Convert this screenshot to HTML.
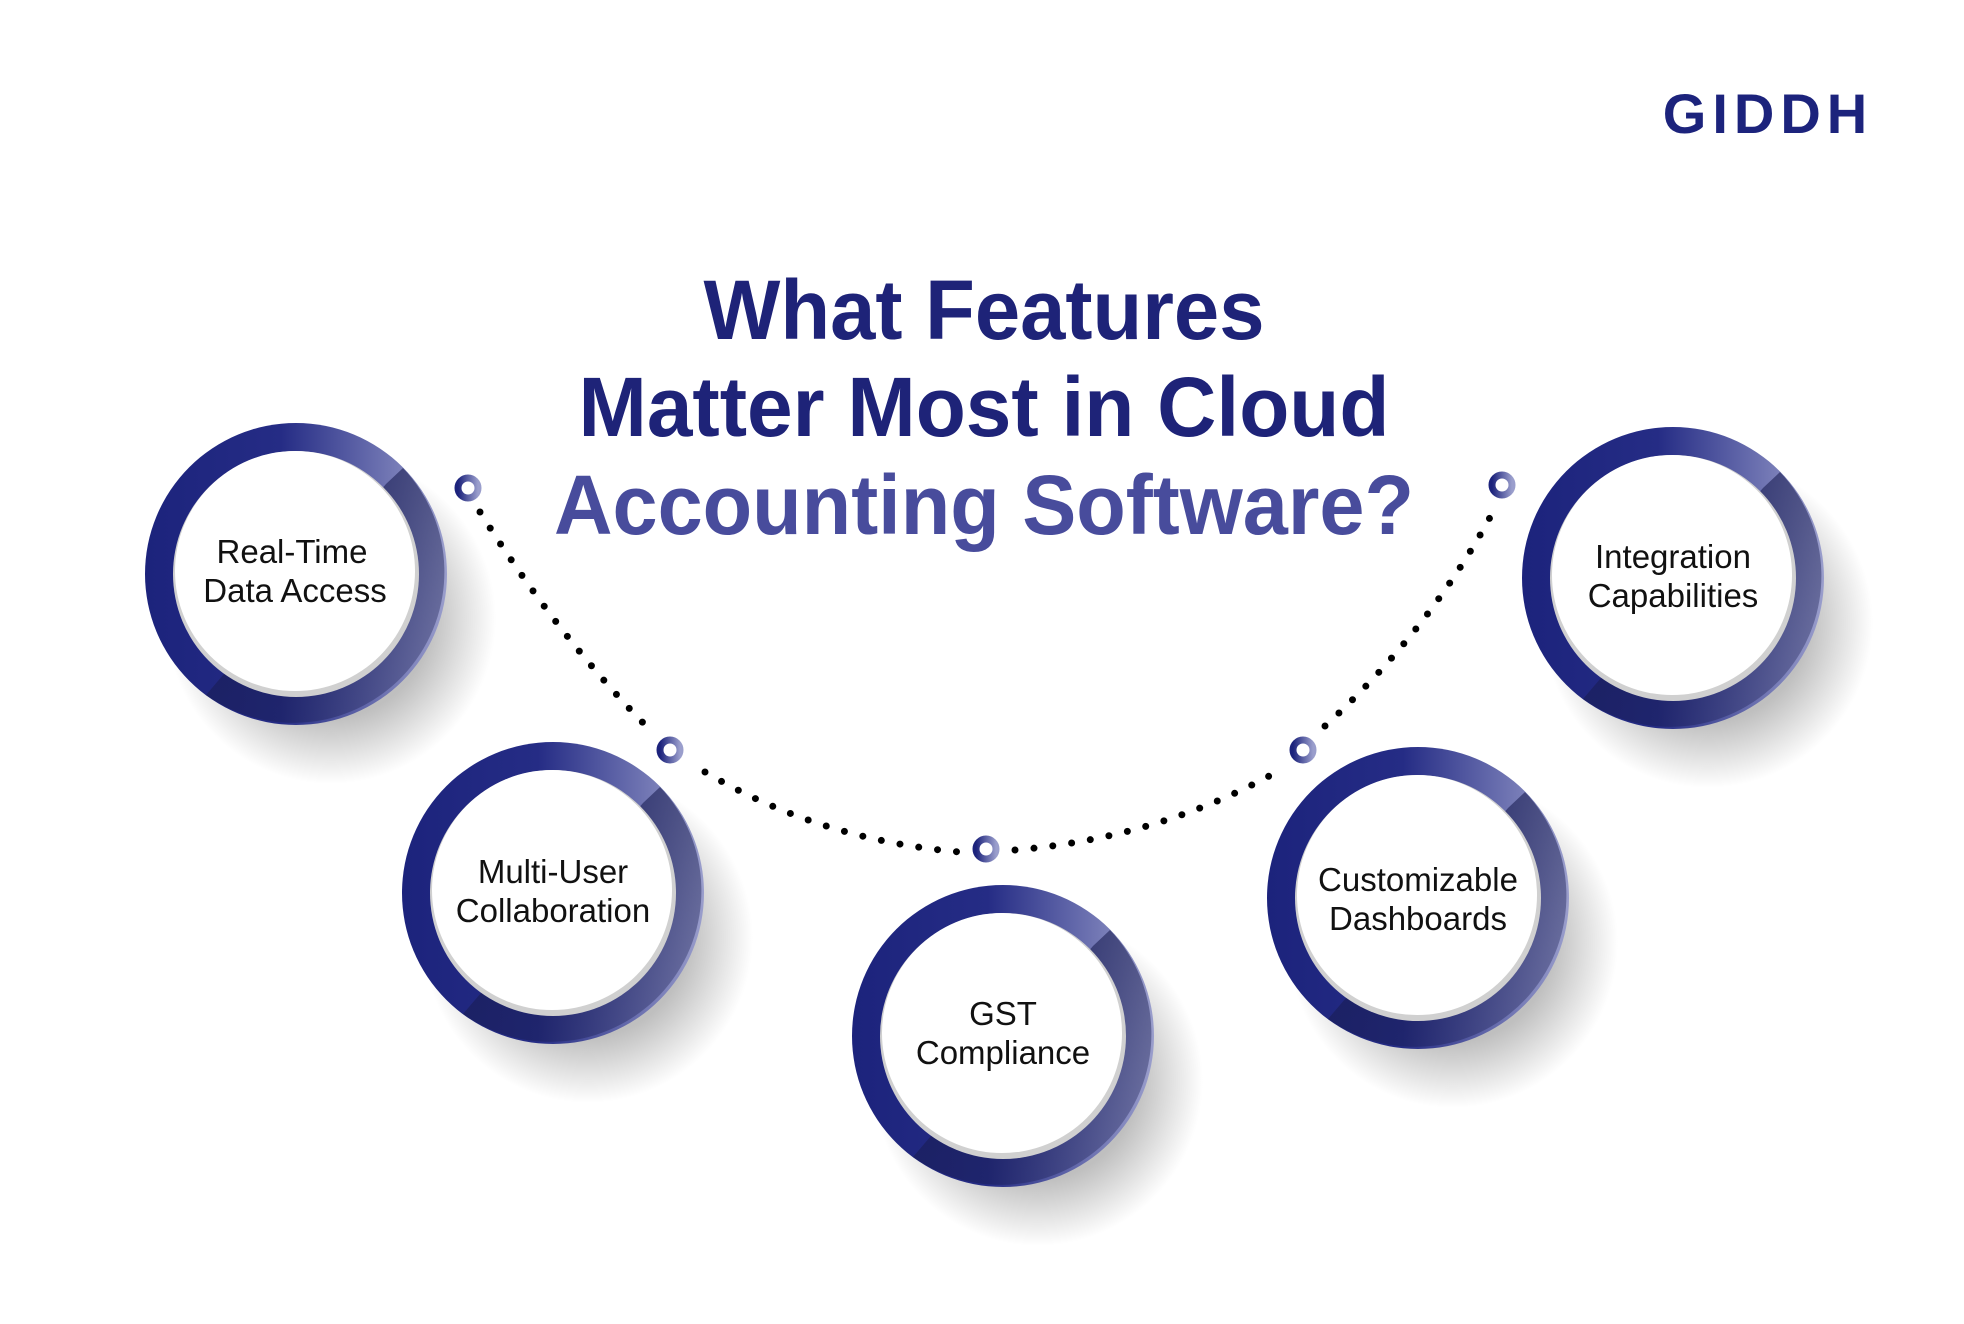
<!DOCTYPE html>
<html><head><meta charset="utf-8"><style>
html,body{margin:0;padding:0;background:#fff}
svg{display:block}
</style></head><body>
<svg width="1964" height="1324" viewBox="0 0 1964 1324" xmlns="http://www.w3.org/2000/svg">
<defs>
<linearGradient id="rg" x1="0" y1="0" x2="1" y2="0">
<stop offset="0" stop-color="#1c237c"/><stop offset="0.45" stop-color="#252c85"/><stop offset="1" stop-color="#9a9ecc"/>
</linearGradient>
<linearGradient id="sh" x1="0.2" y1="0.2" x2="1" y2="1">
<stop offset="0" stop-color="#181c50" stop-opacity="1"/><stop offset="1" stop-color="#181c50" stop-opacity="0.35"/>
</linearGradient>
<radialGradient id="drop" cx="0.5" cy="0.5" r="0.5">
<stop offset="0.6" stop-color="#000" stop-opacity="0.25"/><stop offset="1" stop-color="#000" stop-opacity="0"/>
</radialGradient>
<linearGradient id="sg" x1="0" y1="0" x2="1" y2="0"><stop offset="0" stop-color="#1c237c"/><stop offset="1" stop-color="#9a9ecc"/></linearGradient>
<g id="node">
<circle cx="35" cy="45" r="165" fill="url(#drop)"/>
<circle r="151" fill="url(#rg)"/>
<path d="M 107 -106 A 151 151 0 0 1 -90 121 L 90 -90 Z" fill="url(#sh)" opacity="0.7"/>
<circle r="123" fill="#d0d0d0"/>
<circle r="120" cx="-1" cy="-3" fill="#fff"/>
</g>
<g id="ring"><circle r="10" fill="none" stroke="url(#sg)" stroke-width="7"/></g>
</defs>
<text x="1768" y="133" text-anchor="middle" font-family="Liberation Sans, sans-serif" font-weight="bold" font-size="56" fill="#1c237c" letter-spacing="6">GIDDH</text>
<g font-family="Liberation Sans, sans-serif" font-weight="bold" font-size="84" text-anchor="middle">
<text x="984" y="339" fill="#1e2378" textLength="561" lengthAdjust="spacingAndGlyphs">What Features</text>
<text x="984" y="436" fill="#1e2378" textLength="811" lengthAdjust="spacingAndGlyphs">Matter Most in Cloud</text>
<text x="984" y="534" fill="#484c9c" textLength="860" lengthAdjust="spacingAndGlyphs">Accounting Software?</text>
</g>
<g fill="none" stroke="#000" stroke-width="7" stroke-linecap="round" stroke-dasharray="0 19">
<path d="M 480 512 Q 560 640 655 735"/>
<path d="M 705 772 Q 820 840 960 852"/>
<path d="M 1015 850 Q 1160 838 1280 770"/>
<path d="M 1325 726 Q 1430 630 1494 510"/>
</g>
<use href="#ring" x="468" y="488"/><use href="#ring" x="670" y="750"/><use href="#ring" x="986" y="849"/><use href="#ring" x="1303" y="750"/><use href="#ring" x="1502" y="485"/>
<use href="#node" x="296" y="574"/><use href="#node" x="553" y="893"/><use href="#node" x="1003" y="1036"/><use href="#node" x="1418" y="898"/><use href="#node" x="1673" y="578"/>
<g font-family="Liberation Sans, sans-serif" font-size="33" fill="#111" text-anchor="middle">
<text x="292" y="563">Real-Time</text><text x="295" y="602">Data Access</text>
<text x="553" y="883">Multi-User</text><text x="553" y="922">Collaboration</text>
<text x="1003" y="1025">GST</text><text x="1003" y="1064">Compliance</text>
<text x="1418" y="891">Customizable</text><text x="1418" y="930">Dashboards</text>
<text x="1673" y="568">Integration</text><text x="1673" y="607">Capabilities</text>
</g>
</svg>
</body></html>
